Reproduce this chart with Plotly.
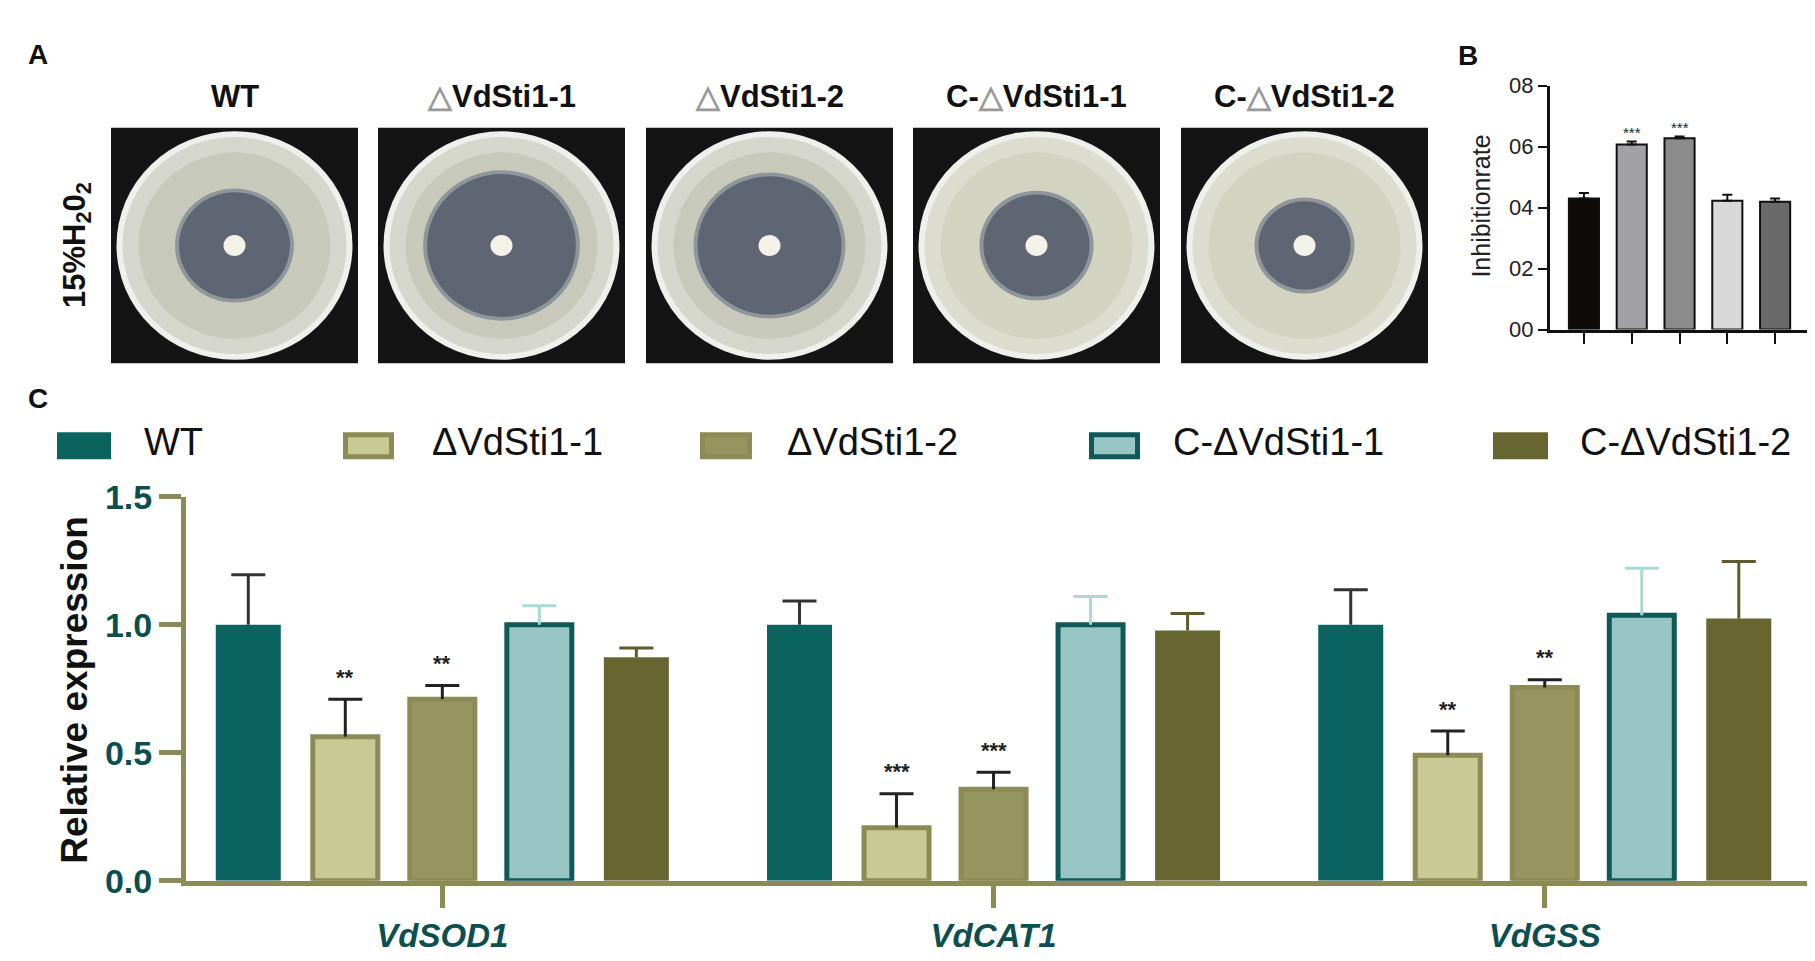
import plotly.graph_objects as go

W, H = 1815, 961
FONT = "Liberation Sans, Arial, sans-serif"

# ---- panel C : relative expression ----
genes = ["VdSOD1", "VdCAT1", "VdGSS"]
strains = ["WT", "ΔVdSti1-1", "ΔVdSti1-2", "C-ΔVdSti1-1", "C-ΔVdSti1-2"]
expr_wt = [1.00, 1.00, 1.00]
expr_d1 = [0.563, 0.207, 0.49]
expr_d2 = [0.709, 0.358, 0.755]
expr_c1 = [1.00, 1.00, 1.037]
expr_c2 = [0.873, 0.977, 1.024]
sd_wt = [0.195, 0.093, 0.137]
sd_d1 = [0.146, 0.133, 0.095]
sd_d2 = [0.054, 0.066, 0.030]
sd_c1 = [0.074, 0.110, 0.183]
sd_c2 = [0.036, 0.067, 0.223]
sig_d1 = ["**", "***", "**"]
sig_d2 = ["**", "***", "**"]

# ---- panel B : inhibition rate ----
inhib = [0.430, 0.607, 0.627, 0.422, 0.419]
inhib_sd = [0.018, 0.010, 0.006, 0.020, 0.011]
inhib_sig = ["", "***", "***", "", ""]
b_tickvals = [0, 0.2, 0.4, 0.6, 0.8]
b_ticktext = ["00", "02", "04", "06", "08"]

# ---- panel A : plates (inhibition zone / plate radius) ----
plate_titles = ["WT", "△VdSti1-1", "△VdSti1-2", "C-△VdSti1-1", "C-△VdSti1-2"]
zone_ratio = [0.47, 0.63, 0.61, 0.45, 0.39]


def px(x):
    return x / W


def py(y):
    return 1 - y / H


def label(x, y, text, size, color="#111111", angle=0, xanchor="center", **kw):
    return dict(x=px(x), y=py(y), xref="paper", yref="paper", text=text,
                showarrow=False, textangle=angle, xanchor=xanchor, yanchor="middle",
                font=dict(family=FONT, size=size, color=color, **kw))


def ellipse(cx, cy, rx, ry, color):
    return dict(type="circle", xref="paper", yref="paper",
                x0=px(cx - rx), x1=px(cx + rx), y0=py(cy + ry), y1=py(cy - ry),
                fillcolor=color, line=dict(width=0))


TEAL = "#0b6360"
OLIVE = "#8c8b55"
TICKTEAL = "#0d4f4f"

fills = [TEAL, "#c8ca95", "#96955f", "#97c6c4", "#686630"]
edges = [TEAL, OLIVE, OLIVE, "#0f5a58", "#686630"]
edge_w = [0, 5, 5, 5, 0]
err_col = ["#333333", "#222222", "#222222", "#a8dada", "#5e5c2a"]
values = [expr_wt, expr_d1, expr_d2, expr_c1, expr_c2]
sds = [sd_wt, sd_d1, sd_d2, sd_c1, sd_c2]

fig = go.Figure()

for i, name in enumerate(strains):
    fig.add_trace(go.Bar(
        x=genes, y=values[i], name=name, offsetgroup=str(i),
        marker=dict(color=fills[i], line=dict(color=edges[i], width=edge_w[i])),
        error_y=dict(type="data", array=sds[i], arrayminus=[0] * 3, symmetric=False,
                     color=err_col[i], thickness=3, width=0),
        xaxis="x", yaxis="y", showlegend=False, hoverinfo="skip"))
    # caps of the error bars
    tops = [v + s for v, s in zip(values[i], sds[i])]
    fig.add_trace(go.Bar(
        x=genes, y=tops, offsetgroup=str(i),
        marker=dict(color="rgba(0,0,0,0)", line=dict(width=0)),
        error_y=dict(type="data", array=[0] * 3, color=err_col[i], thickness=3, width=17),
        xaxis="x", yaxis="y", showlegend=False, hoverinfo="skip"))

# panel B bars
b_fills = ["#0d0a08", "#a2a2a6", "#8c8c8c", "#d8d8d8", "#6a6a6a"]
fig.add_trace(go.Bar(
    x=strains, y=inhib, width=0.63,
    marker=dict(color=b_fills, line=dict(color="#111111", width=2)),
    error_y=dict(type="data", array=inhib_sd, arrayminus=[0] * 5, symmetric=False,
                 color="#111111", thickness=2, width=5),
    xaxis="x2", yaxis="y2", showlegend=False, hoverinfo="skip"))

# ---- layout geometry ----
c_left, c_right = 178, 1803
c_range = [-0.465, 2.483]
bargap = 0.12
group_px = (c_right - c_left) / (c_range[1] - c_range[0])
step_px = group_px * (1 - bargap) / len(strains)

annotations = []
shapes = []

# significance stars, panel C
for j, g in enumerate(genes):
    for i, sig in ((1, sig_d1[j]), (2, sig_d2[j])):
        annotations.append(dict(
            x=g, y=values[i][j] + sds[i][j], xref="x", yref="y",
            xshift=(i - 2) * step_px, yshift=22, xanchor="center", yanchor="middle",
            text="<b>" + sig + "</b>", showarrow=False,
            font=dict(family=FONT, size=22, color="#222222")))

# significance stars, panel B
for s, v, e, sig in zip(strains, inhib, inhib_sd, inhib_sig):
    if sig:
        annotations.append(dict(
            x=s, y=v + e, xref="x2", yref="y2", yshift=9, xanchor="center", yanchor="middle",
            text=sig, showarrow=False, font=dict(family=FONT, size=15, color="#222222")))

# legend of panel C, drawn by hand
leg_sw = [(49, 103), (335, 386), (692, 744), (1081, 1132), (1485, 1540)]
leg_tx = [134, 422, 777, 1163, 1570]
for i, name in enumerate(strains):
    x0, x1 = leg_sw[i]
    lw = edge_w[i]
    shapes.append(dict(type="rect", xref="paper", yref="paper",
                       x0=px(x0 + lw / 2), x1=px(x1 - lw / 2),
                       y0=py(450 - lw / 2), y1=py(422 + lw / 2),
                       fillcolor=fills[i], line=dict(color=edges[i], width=lw)))
    annotations.append(label(leg_tx[i], 432, name, 38, xanchor="left"))

# plates of panel A
box_left = [103, 370, 638, 905, 1173]
box_w, box_top, box_bot = 247, 105, 350
for i, t in enumerate(plate_titles):
    bx = box_left[i]
    cx = bx + box_w / 2
    cy = (box_top + box_bot) / 2
    shapes.append(dict(type="rect", xref="paper", yref="paper",
                       x0=px(bx), x1=px(bx + box_w), y0=py(box_bot), y1=py(box_top),
                       fillcolor="#141414", line=dict(width=0)))
    rx, ry = 118, 119
    outer = "#d5d7cd" if i < 3 else "#dcddcf"
    inner = "#c7cabb" if i < 3 else "#d2d3c1"
    shapes.append(ellipse(cx, cy, rx, ry, "#eef0ec"))
    shapes.append(ellipse(cx, cy, rx - 6, ry - 6, outer))
    shapes.append(ellipse(cx, cy, rx - 22, ry - 22, inner))
    zr = zone_ratio[i] * rx
    shapes.append(ellipse(cx, cy, zr + 4, zr + 4, "#8f969b"))
    shapes.append(ellipse(cx, cy, zr, zr, "#5d6672"))
    shapes.append(ellipse(cx, cy, 11, 11, "#f3f1e8"))
    title = t.replace("△", "<span style='color:#9a9a9a'>△</span>")
    annotations.append(label(cx, 72, "<b>" + title + "</b>", 31))

annotations.append(label(69, 227, "<b>15%H<sub>2</sub>0<sub>2</sub></b>", 31, angle=-90))

# panel letters and axis titles
for letter, lx, ly in (("A", 30, 29), ("B", 1460, 30), ("C", 30, 387)):
    annotations.append(label(lx, ly, "<b>" + letter + "</b>", 28))
annotations.append(label(67, 690, "<b>Relative expression</b>", 37, angle=-90))
annotations.append(label(1473, 187, "Inhibitionrate", 25, color="#222222", angle=-90))

fig.update_layout(
    width=W, height=H,
    margin=dict(l=0, r=0, t=0, b=0),
    paper_bgcolor="white", plot_bgcolor="white",
    barmode="group", bargap=bargap, bargroupgap=0.33,
    font=dict(family=FONT),
    xaxis=dict(domain=[px(c_left), px(c_right)], range=c_range, type="category",
               anchor="y", showline=True, linewidth=5, linecolor=OLIVE,
               ticks="outside", ticklen=22, tickwidth=5, tickcolor=OLIVE,
               tickfont=dict(family=FONT, size=33, color=TICKTEAL, style="italic", weight="bold"),
               showgrid=False, zeroline=False),
    yaxis=dict(domain=[py(889), py(489)], range=[0, 1.5], anchor="x",
               tickvals=[0, 0.5, 1.0, 1.5], ticktext=["0.0", "0.5", "1.0", "1.5"],
               showline=True, linewidth=5, linecolor=OLIVE,
               ticks="outside", ticklen=22, tickwidth=5, tickcolor=OLIVE,
               tickfont=dict(family=FONT, size=34, color=TICKTEAL, weight="bold"),
               showgrid=False, zeroline=False),
    xaxis2=dict(domain=[px(1542), px(1802)], range=[-0.71, 4.73], type="category",
                anchor="y2", tickvals=strains, showticklabels=False,
                showline=True, linewidth=3, linecolor="#111111",
                ticks="outside", ticklen=11, tickwidth=2, tickcolor="#111111",
                showgrid=False, zeroline=False),
    yaxis2=dict(domain=[py(315), py(61)], range=[0, 0.8], anchor="x2",
                tickvals=b_tickvals, ticktext=b_ticktext,
                showline=True, linewidth=3, linecolor="#111111",
                ticks="outside", ticklen=9, tickwidth=2, tickcolor="#111111",
                tickfont=dict(family=FONT, size=22, color="#222222"),
                showgrid=False, zeroline=False),
    shapes=shapes,
    annotations=annotations,
)

fig.write_html("out.html")
